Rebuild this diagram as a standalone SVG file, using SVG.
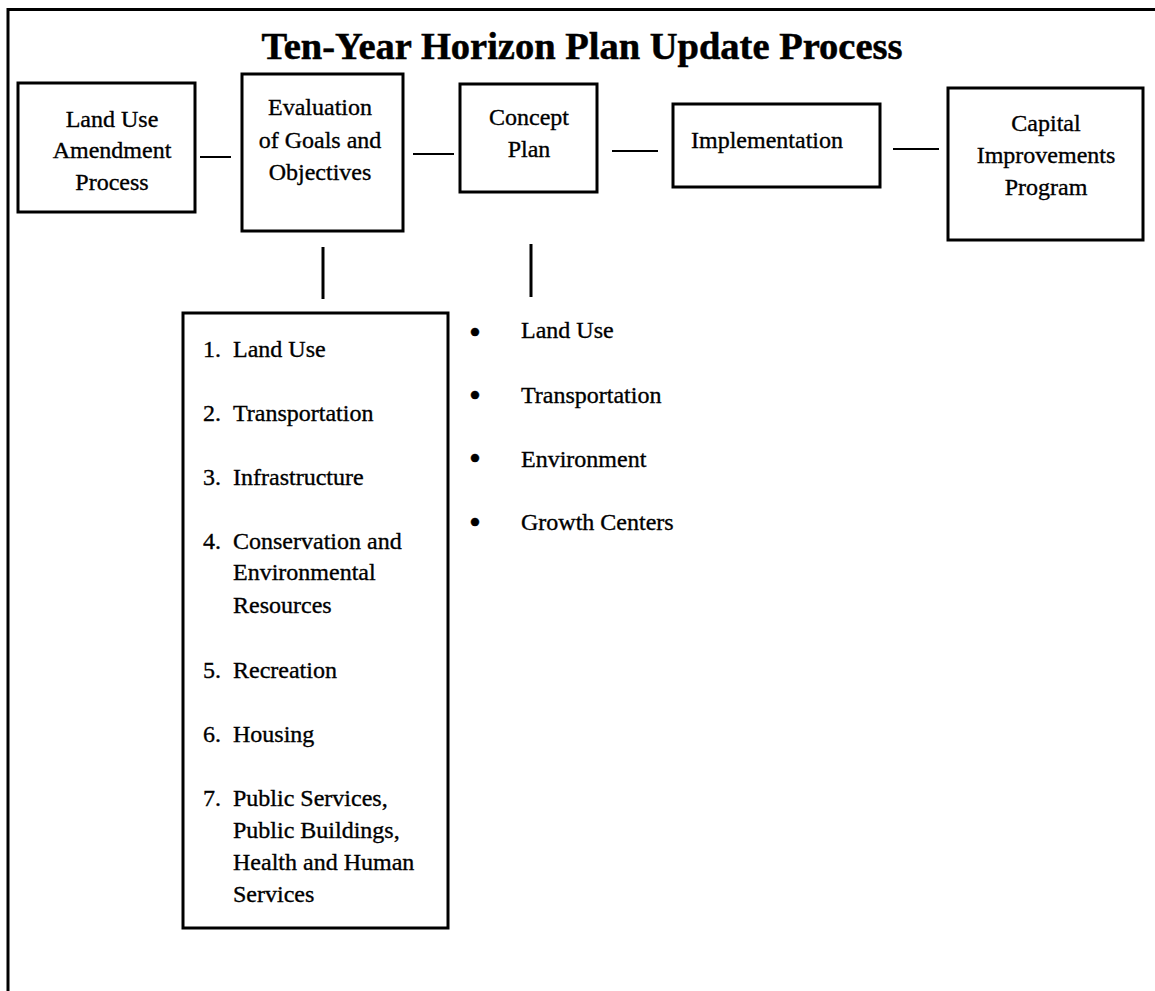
<svg xmlns="http://www.w3.org/2000/svg" width="1155" height="991" viewBox="0 0 1155 991">
  <style>
    .box { fill: #fff; stroke: #000; stroke-width: 3; }
    .link { stroke: #000; stroke-width: 2; fill: none; }
    .drop { stroke: #000; stroke-width: 3; fill: none; }
    .frame { stroke: #000; stroke-width: 3; fill: none; }
    text { font-family: "Liberation Serif", "Times New Roman", serif; fill: #000; stroke: #000; stroke-width: 0.35; }
    .title { font-size: 38.5px; font-weight: bold; text-anchor: middle; stroke-width: 0.5; }
    .lbl { font-size: 24px; text-anchor: middle; }
    .item { font-size: 24px; }
    .bullet { font-size: 34px; text-anchor: middle; }
  </style>

  <rect x="0" y="0" width="1155" height="991" fill="#fff"/>

  <!-- page frame (top and left rules) -->
  <g id="frame">
    <path class="frame" d="M8,991 V9.5 H1155"/>
  </g>

  <text id="title" class="title" x="582" y="59">Ten-Year Horizon Plan Update Process</text>

  <!-- connectors -->
  <g id="connectors">
    <line class="link" x1="200" y1="157" x2="231" y2="157"/>
    <line class="link" x1="413" y1="154" x2="454" y2="154"/>
    <line class="link" x1="612" y1="151" x2="658" y2="151"/>
    <line class="link" x1="893" y1="149" x2="939" y2="149"/>
    <line class="drop" x1="323" y1="247" x2="323" y2="299"/>
    <line class="drop" x1="531" y1="244" x2="531" y2="297"/>
  </g>

  <g id="land-use-amendment">
    <rect class="box" x="18" y="83" width="177" height="129"/>
    <text class="lbl" x="112" y="127">Land Use</text>
    <text class="lbl" x="112" y="158">Amendment</text>
    <text class="lbl" x="112" y="190">Process</text>
  </g>

  <g id="evaluation">
    <rect class="box" x="242" y="74" width="161" height="157"/>
    <text class="lbl" x="320" y="115">Evaluation</text>
    <text class="lbl" x="320" y="148">of Goals and</text>
    <text class="lbl" x="320" y="180">Objectives</text>
  </g>

  <g id="concept-plan">
    <rect class="box" x="460" y="84" width="137" height="108"/>
    <text class="lbl" x="529" y="125">Concept</text>
    <text class="lbl" x="529" y="157">Plan</text>
  </g>

  <g id="implementation">
    <rect class="box" x="673" y="104" width="207" height="83"/>
    <text class="lbl" x="767" y="148">Implementation</text>
  </g>

  <g id="capital-improvements">
    <rect class="box" x="948" y="88" width="195" height="152"/>
    <text class="lbl" x="1046" y="131">Capital</text>
    <text class="lbl" x="1046" y="163">Improvements</text>
    <text class="lbl" x="1046" y="195">Program</text>
  </g>

  <g id="goal-elements">
    <rect class="box" x="183" y="313" width="265" height="615"/>
    <text class="item" x="203" y="357">1.</text>
    <text class="item" x="233" y="357">Land Use</text>
    <text class="item" x="203" y="421">2.</text>
    <text class="item" x="233" y="421">Transportation</text>
    <text class="item" x="203" y="485">3.</text>
    <text class="item" x="233" y="485">Infrastructure</text>
    <text class="item" x="203" y="549">4.</text>
    <text class="item" x="233" y="549">Conservation and</text>
    <text class="item" x="233" y="580">Environmental</text>
    <text class="item" x="233" y="613">Resources</text>
    <text class="item" x="203" y="678">5.</text>
    <text class="item" x="233" y="678">Recreation</text>
    <text class="item" x="203" y="742">6.</text>
    <text class="item" x="233" y="742">Housing</text>
    <text class="item" x="203" y="806">7.</text>
    <text class="item" x="233" y="806">Public Services,</text>
    <text class="item" x="233" y="838">Public Buildings,</text>
    <text class="item" x="233" y="870">Health and Human</text>
    <text class="item" x="233" y="902">Services</text>
  </g>

  <g id="concept-elements">
    <text class="bullet" x="475" y="344">•</text>
    <text class="item" x="521" y="338">Land Use</text>
    <text class="bullet" x="475" y="407">•</text>
    <text class="item" x="521" y="403">Transportation</text>
    <text class="bullet" x="475" y="470">•</text>
    <text class="item" x="521" y="467">Environment</text>
    <text class="bullet" x="475" y="534">•</text>
    <text class="item" x="521" y="530">Growth Centers</text>
  </g>
</svg>
